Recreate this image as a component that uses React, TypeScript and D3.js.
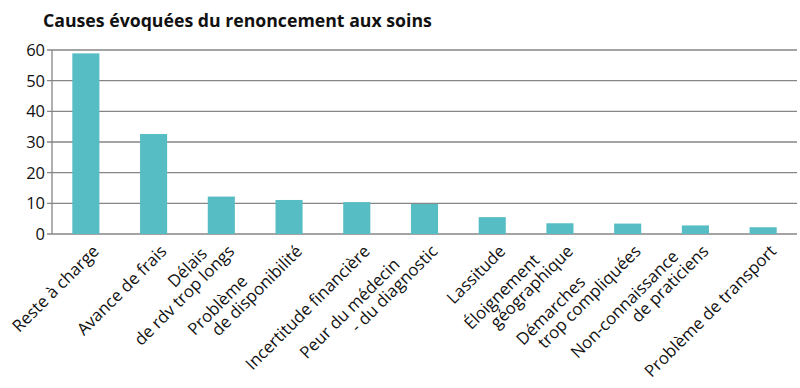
import React from "react";
import * as d3 from "d3";

const title = "Causes évoquées du renoncement aux soins";
const categories = [
  "Reste à charge",
  "Avance de frais",
  "Délais\nde rdv trop longs",
  "Problème\nde disponibilité",
  "Incertitude financière",
  "Peur du médecin\n- du diagnostic",
  "Lassitude",
  "Éloignement\ngéographique",
  "Démarches\ntrop compliquées",
  "Non-connaissance\nde praticiens",
  "Problème de transport",
];
const values = [58.9, 32.6, 12.2, 11.1, 10.4, 9.8, 5.5, 3.5, 3.4, 2.8, 2.2];
const yTicks = [0, 10, 20, 30, 40, 50, 60];
// along-text shift (px) of first line for two-line labels
const firstLineShift = [0, 0, -21, -60, 0, -36, 0, -30, -61, -25, 0];

const W = 800;
const H = 388;
const left = 52;
const right = 797;
const top = 50;
const bottom = 234;
const barColor = "#57bdc4";
const gridColor = "#868686";
const font = "'Open Sans', 'DejaVu Sans', sans-serif";

export default function App() {
  const x = d3.scaleBand<string>().domain(categories).range([left, right]).paddingInner(0.6).paddingOuter(0.3);
  const y = d3.scaleLinear().domain([0, 60]).range([bottom, top]);
  const bw = x.bandwidth();
  return (
    <svg width={W} height={H} style={{ position: "absolute", left: 0, top: 0, background: "#fff" }}>
      <text x={43} y={27} fontFamily={font} fontWeight="bold" fontSize={17.7} fill="#111">
        {title}
      </text>
      {yTicks.map((t) => (
        <g key={t}>
          <line x1={left - 5} x2={right} y1={y(t)} y2={y(t)} stroke={gridColor} strokeWidth={1.3} />
          <text x={45} y={y(t) + 6} textAnchor="end" fontFamily={font} fontSize={16.5} fill="#111">
            {t}
          </text>
        </g>
      ))}
      <line x1={left} x2={left} y1={top} y2={bottom} stroke={gridColor} strokeWidth={1.3} />
      {categories.map((c, i) => (
        <rect key={c} x={x(c)!} y={y(values[i])} width={bw} height={bottom - y(values[i])} fill={barColor} />
      ))}
      {categories.map((c, i) => {
        const lines = c.split("\n");
        const cx = x(c)! + bw / 2;
        return (
          <g key={"l" + i} transform={`translate(${cx},${bottom}) rotate(-45)`}>
            {lines.map((ln, j) => {
              const fromLast = lines.length - 1 - j;
              return (
                <text
                  key={j}
                  x={-3 + (fromLast > 0 ? firstLineShift[i] : 0)}
                  y={23 - fromLast * 17.5}
                  textAnchor="end"
                  fontFamily={font}
                  fontSize={16.8}
                  fill="#111"
                >
                  {ln}
                </text>
              );
            })}
          </g>
        );
      })}
    </svg>
  );
}
